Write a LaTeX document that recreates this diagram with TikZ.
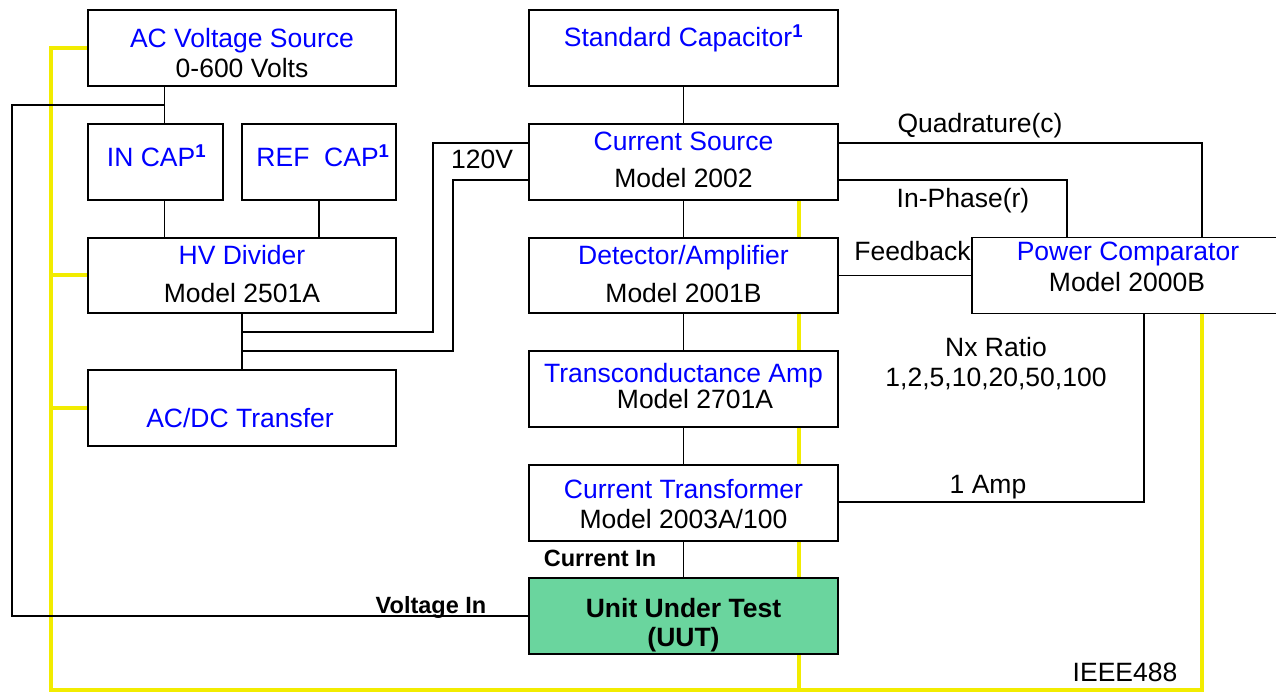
\documentclass[tikz,border=0pt]{standalone}
\usepackage{fontspec}
\setmainfont{Liberation Sans}
\pgfdeclarelayer{bg}
\pgfsetlayers{bg,main}
\definecolor{tblue}{RGB}{0,0,255}
\definecolor{wireyellow}{RGB}{242,236,0}
\definecolor{uutgreen}{RGB}{106,213,158}
\begin{document}
\begin{tikzpicture}[x=1pt,y=-1pt,
  box/.style={draw=black, fill=white, line width=1.4pt, inner sep=0pt, minimum height=76pt},
  wire/.style={line width=1.4pt},
  yw/.style={draw=wireyellow, line width=4pt},
  lbl/.style={anchor=base, inner sep=0pt, font=\fontsize{26.5}{30}\selectfont},
  ttl/.style={lbl, text=tblue},
  bl/.style={anchor=base, inner sep=0pt, font=\bfseries\fontsize{23.5}{28}\selectfont},
  ubl/.style={anchor=base, inner sep=0pt, font=\bfseries\fontsize{26.5}{30}\selectfont}]
\useasboundingbox (0,0) rectangle (1276,692);
\clip (0,0) rectangle (1276,692);

% boxes
\node[box, minimum width=308pt] (acv) at (242,48) {};
\node[box, minimum width=135pt] (incap) at (155.5,162) {};
\node[box, minimum width=154pt] (refcap) at (319,162) {};
\node[box, minimum width=308pt, minimum height=75pt] (hvd) at (242,275.5) {};
\node[box, minimum width=308pt] (acdc) at (242,408) {};
\node[box, minimum width=309pt] (std) at (683.5,48) {};
\node[box, minimum width=309pt] (cs) at (683.5,162) {};
\node[box, minimum width=309pt, minimum height=75pt] (det) at (683.5,275.5) {};
\node[box, minimum width=309pt] (tca) at (683.5,389) {};
\node[box, minimum width=309pt] (ct) at (683.5,503) {};
\node[box, minimum width=309pt, fill=uutgreen] (uut) at (683.5,616) {};
\node[box, minimum width=318pt] (pc) at (1131,275.5) {};

% box texts
\node[ttl] (acvt) at (242,48) {AC Voltage Source};
\node[lbl] (acvm) at (242,78) {0-600 Volts};
\node[ttl] (incapt) at (156.5,167) {IN CAP\textsuperscript{\bfseries 1}};
\node[ttl] (refcapt) at (323,167) {REF\ \ CAP\textsuperscript{\bfseries 1}};
\node[ttl] (hvdt) at (242,265) {HV Divider};
\node[lbl] (hvdm) at (242,303) {Model 2501A};
\node[ttl] (acdct) at (240,427) {AC/DC Transfer};
\node[ttl] (stdt) at (683.5,47) {Standard Capacitor\textsuperscript{\bfseries 1}};
\node[ttl] (cst) at (683.5,151) {Current Source};
\node[lbl] (csm) at (683.5,188) {Model 2002};
\node[ttl] (dett) at (683.5,265) {Detector/Amplifier};
\node[lbl] (detm) at (683.5,303) {Model 2001B};
\node[ttl] (tcat) at (683.5,382) {Transconductance Amp};
\node[lbl] (tcam) at (695,408) {Model 2701A};
\node[ttl] (ctt) at (683.5,498) {Current Transformer};
\node[lbl] (ctm) at (683.5,528) {Model 2003A/100};
\node[ubl] (uutt) at (683.5,617) {Unit Under Test};
\node[ubl] (uutm) at (683.5,646) {(UUT)};
\node[ttl] (pct) at (1128,261) {Power Comparator};
\node[lbl] (pcm) at (1127,292) {Model 2000B};

% free labels
\node[lbl] (l120) at (482,169) {120V};
\node[lbl] (lq) at (980,133) {Quadrature(c)};
\node[lbl] (lip) at (963,208) {In-Phase(r)};
\node[lbl] (lfb) at (912.5,261) {Feedback};
\node[lbl] (lnx) at (996,356) {Nx Ratio};
\node[lbl] (lnr) at (996,386) {1,2,5,10,20,50,100};
\node[lbl] (l1a) at (988,493) {1 Amp};
\node[lbl] (lieee) at (1125,681) {IEEE488};
\node[bl] (lci) at (600,566) {Current In};
\node[bl] (lvi) at (431,613) {Voltage In};

% black connectors
\coordinate (j1) at (165,105);
\coordinate (lc) at (12,105);
\coordinate (j2) at (242,332);
\coordinate (j3) at (242,351);
\draw[wire] ([xshift=77pt]acv.south west) -- ([xshift=77pt]acv.south west |- incap.north);
\draw[wire] (j1) -- (lc) |- (uut.west);
\draw[wire] ([xshift=77pt]incap.south west) -- ([xshift=77pt]incap.south west |- hvd.north);
\draw[wire] (refcap.south) -- (refcap.south |- hvd.north);
\draw[wire] (hvd.south) -- (acdc.north);
\draw[wire] (j2) -- ++(191,0) |- ([yshift=19pt]cs.west);
\draw[wire] (j3) -- ++(211,0) |- ([yshift=-18pt]cs.west);
\draw[wire] (std.south) -- (cs.north);
\draw[wire] (cs.south) -- (det.north);
\draw[wire] (det.south) -- (tca.north);
\draw[wire] (tca.south) -- (ct.north);
\draw[wire] (ct.south) -- (uut.north);
\draw[wire] ([yshift=19pt]cs.east) -| ([xshift=71pt]pc.north);
\draw[wire] ([yshift=-18pt]cs.east) -| ([xshift=-64pt]pc.north);
\draw[wire] (det.east) -- (pc.west);
\draw[wire] ([xshift=13pt]pc.south) |- ([yshift=1pt]ct.east);

% yellow wires
\begin{pgfonlayer}{bg}
\coordinate (yb) at (50.5,690);
\draw[yw] (acv.west) -| (yb) -| ([xshift=71pt]pc.south);
\draw[yw] (hvd.west) -- (hvd.west -| yb);
\draw[yw] (acdc.west) -- (acdc.west -| yb);
\draw[yw] ([xshift=115.5pt]cs.south) -- ([xshift=115.5pt]cs.south |- yb);
\end{pgfonlayer}
\end{tikzpicture}
\end{document}
